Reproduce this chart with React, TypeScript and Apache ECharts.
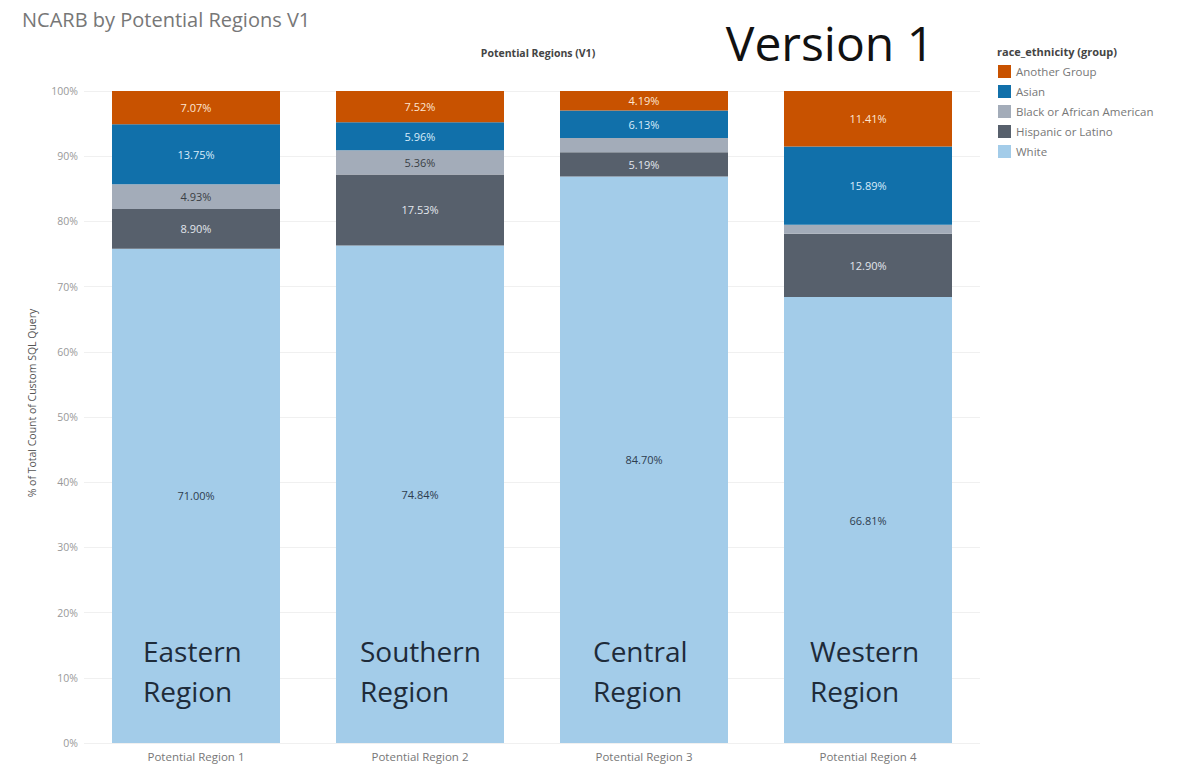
import React, { useEffect, useRef } from "react";
import * as echarts from "echarts";

const categories = ["Potential Region 1", "Potential Region 2", "Potential Region 3", "Potential Region 4"];
const regionNames = ["Eastern\nRegion", "Southern\nRegion", "Central\nRegion", "Western\nRegion"];
const yTicks = [0, 10, 20, 30, 40, 50, 60, 70, 80, 90, 100];

// segment heights (% of bar)
const whiteValues = [75.8, 76.3, 86.9, 68.4];
const hispanicValues = [6.1, 10.9, 3.7, 9.7];
const blackValues = [3.8, 3.7, 2.2, 1.4];
const asianValues = [9.2, 4.3, 4.2, 12.0];
const anotherValues = [5.1, 4.8, 3.0, 8.5];

// label texts as printed in the picture
const whiteLabels = ["71.00%", "74.84%", "84.70%", "66.81%"];
const hispanicLabels = ["8.90%", "17.53%", "5.19%", "12.90%"];
const blackLabels = ["4.93%", "5.36%", "", ""];
const asianLabels = ["13.75%", "5.96%", "6.13%", "15.89%"];
const anotherLabels = ["7.07%", "7.52%", "4.19%", "11.41%"];

const FONT = "'Open Sans', 'Noto Sans', sans-serif";

export default function App() {
  const ref = useRef<HTMLDivElement>(null);
  useEffect(() => {
    if (!ref.current) return;
    const chart = echarts.init(ref.current, null, { renderer: "svg" });
    const mk = (name: string, values: number[], labels: string[], color: string, labelColor: string) => ({
      name,
      type: "bar",
      stack: "total",
      barWidth: "75%",
      data: values,
      itemStyle: { color },
      label: {
        show: true,
        position: "inside",
        color: labelColor,
        fontSize: 11,
        fontFamily: FONT,
        formatter: (p: any) => labels[p.dataIndex],
      },
      emphasis: { disabled: true },
    });
    const graphics: any[] = [];
    const annX = [143, 360, 593, 810];
    regionNames.forEach((t, i) => {
      graphics.push({
        type: "text",
        x: annX[i],
        y: 631,
        z: 100,
        style: { text: t, fill: "#1e2b3a", font: `28px ${FONT}`, lineHeight: 40, textAlign: "left" },
      });
    });
    graphics.push({
      type: "text",
      x: 830,
      y: 42,
      z: 100,
      style: { text: "Version 1", fill: "#111", font: `48px ${FONT}`, textAlign: "center", textVerticalAlign: "middle" },
    });
    graphics.push({
      type: "text",
      x: 32,
      y: 403,
      z: 100,
      rotation: Math.PI / 2,
      style: {
        text: "% of Total Count of Custom SQL Query",
        fill: "#555",
        font: `10.5px ${FONT}`,
        textAlign: "center",
        textVerticalAlign: "middle",
      },
    });
    chart.setOption({
      animation: false,
      backgroundColor: "#fff",
      title: [
        {
          text: "NCARB by Potential Regions V1",
          left: 17,
          top: 4,
          textStyle: { color: "#777", fontSize: 20, fontWeight: "normal", fontFamily: FONT },
        },
        {
          text: "Potential Regions (V1)",
          left: 533,
          top: 42,
          textAlign: "center",
          textStyle: { color: "#444", fontSize: 10.5, fontWeight: "bold", fontFamily: FONT },
        },
        {
          text: "race_ethnicity (group)",
          left: 992,
          top: 41,
          textStyle: { color: "#444", fontSize: 11, fontWeight: "bold", fontFamily: FONT },
        },
      ],
      legend: {
        orient: "vertical",
        left: 993,
        top: 60,
        icon: "rect",
        itemWidth: 13,
        itemHeight: 13,
        itemGap: 7,
        selectedMode: false,
        textStyle: { color: "#777", fontSize: 11.5, fontFamily: FONT },
        data: ["Another Group", "Asian", "Black or African American", "Hispanic or Latino", "White"],
      },
      grid: { left: 84, right: 204, top: 91, bottom: 21 },
      xAxis: {
        type: "category",
        data: categories,
        axisLine: { show: false },
        axisTick: { show: false },
        axisLabel: { color: "#777", fontSize: 11.5, fontFamily: FONT, margin: 7 },
      },
      yAxis: {
        type: "value",
        min: yTicks[0],
        max: yTicks[yTicks.length - 1],
        interval: 10,
        axisLine: { show: false },
        axisTick: { show: false },
        axisLabel: { color: "#999", fontSize: 10.5, fontFamily: FONT, margin: 6, formatter: "{value}%" },
        splitLine: { lineStyle: { color: "#f0f0f0", width: 1 } },
      },
      series: [
        mk("White", whiteValues, whiteLabels, "#a3cce9", "#2e3d4f"),
        mk("Hispanic or Latino", hispanicValues, hispanicLabels, "#57606c", "#e2e6ec"),
        mk("Black or African American", blackValues, blackLabels, "#a3acb9", "#3a3f45"),
        mk("Asian", asianValues, asianLabels, "#1170aa", "#d8ecfa"),
        mk("Another Group", anotherValues, anotherLabels, "#c85200", "#fde6d4"),
      ],
      graphic: graphics,
    });
    return () => chart.dispose();
  }, []);
  return <div ref={ref} style={{ position: "absolute", left: 0, top: 0, width: 1184, height: 764 }} />;
}
